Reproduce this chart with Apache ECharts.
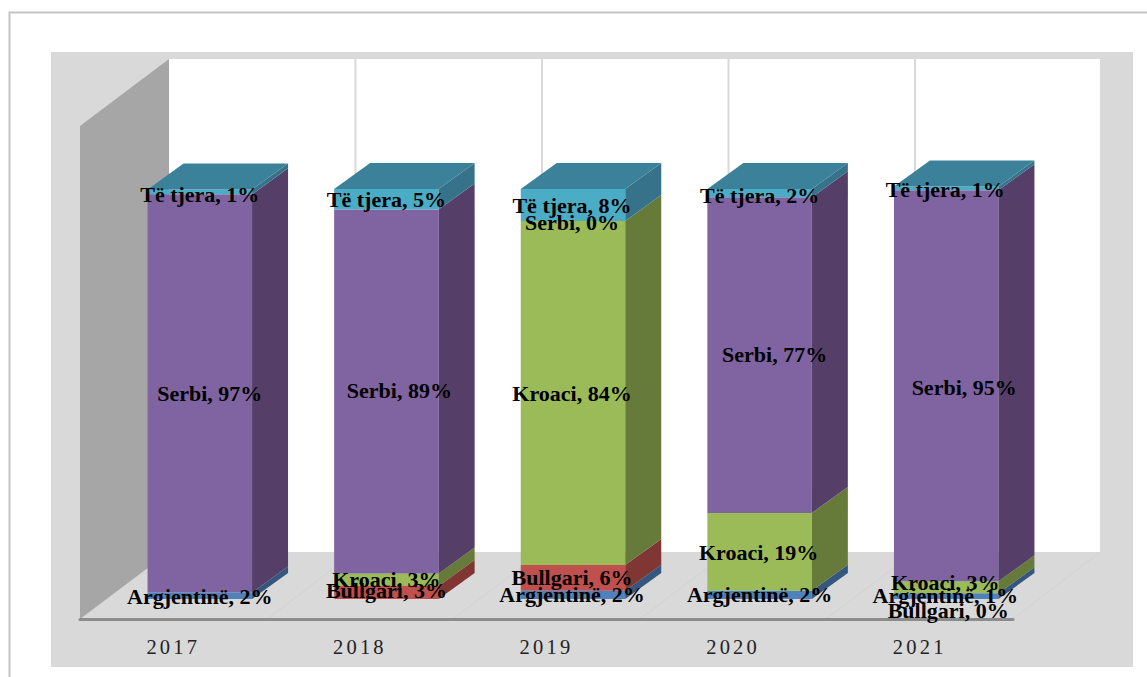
<!DOCTYPE html>
<html><head><meta charset="utf-8">
<style>html,body{margin:0;padding:0;background:#fff}#c{width:1147px;height:677px}
#c svg text[style*="20.5px"]{letter-spacing:3.2px}</style>
<script src="https://cdn.jsdelivr.net/npm/echarts@6/dist/echarts.min.js"></script>
</head><body><div id="c"></div>
<script>
const years = ['2017','2018','2019','2020','2021'];
const argjentine = [1.6, 0, 2, 2, 1.4];
const bullgari   = [0, 3.2, 6.3, 0, 0];
const kroaci     = [0, 3, 83.9, 19, 2.9];
const serbi      = [97.1, 88.8, 0, 77, 95.4];
const teTjera    = [1.2, 5, 7.8, 2, 0.9];

const names  = ['Argjentinë','Bullgari','Kroaci','Serbi','Të tjera'];
const values = [argjentine,bullgari,kroaci,serbi,teTjera];
// which labels the reference shows (zero labels only where printed)
const showZero = {'Bullgari|2021':1,'Serbi|2019':1};
// manual label nudges [dx,dy], keyed "series|year"
const nudge = {
 'Serbi|2017':[10,0],'Serbi|2018':[13,-1],'Serbi|2020':[15,-1],'Serbi|2021':[18,1.5],
 'Të tjera|2017':[0,3],'Të tjera|2019':[-1,1],'Të tjera|2020':[0,2],'Të tjera|2021':[-1,1],
 'Argjentinë|2017':[0,1],'Bullgari|2018':[0,-1.5],'Kroaci|2019':[-1,1],
 'Kroaci|2020':[-1,1],'Serbi|2019':[-1,2],'Bullgari|2019':[-1,0],'Argjentinë|2019':[-1,0],
 'Bullgari|2021':[2,17],'Kroaci|2021':[-1,-5],'Argjentinë|2021':[-1,-1]
};
const faces = [
 {front:'#4f81bd',side:'#35577f'},
 {front:'#c0504d',side:'#803633'},
 {front:'#9bbb59',side:'#667b3a'},
 {front:'#8064a2',side:'#553f69'},
 {front:'#4bacc6',side:'#36738a'}
];
const topColor = '#3a8199';
const barShare = 0.56, shiftX = 26.5, shiftY = -20, depthX = 36, depthY = -26;

function renderSeg(si){
  return function(params, api){
    const i = api.value(0), v = values[si][i];
    const base = values.slice(0,si).reduce((a,s)=>a+s[i],0);
    const c0 = api.coord([i,base]), c1 = api.coord([i,base+v]);
    const w = api.size([1,0])[0]*barShare;
    const xl = c0[0]+shiftX-w/2, xr = xl+w, yb = c0[1]+shiftY, yt = c1[1]+shiftY;
    const kids = [];
    if(v>0){
      kids.push({type:'polygon',z2:1,shape:{points:[[xl,yb],[xr,yb],[xr,yt],[xl,yt]]},style:{fill:faces[si].front}});
      kids.push({type:'polygon',z2:1,shape:{points:[[xr,yb],[xr+depthX,yb+depthY],[xr+depthX,yt+depthY],[xr,yt]]},style:{fill:faces[si].side}});
      const above = values.slice(si+1).reduce((a,s)=>a+s[i],0);
      if(above===0) kids.push({type:'polygon',z2:1,shape:{points:[[xl,yt],[xr,yt],[xr+depthX,yt+depthY],[xl+depthX,yt+depthY]]},style:{fill:topColor}});
    }
    const key = names[si]+'|'+years[i];
    if(v>0 || showZero[key]){
      const n = nudge[key]||[0,0];
      kids.push({type:'text',z2:100,x:(xl+xr)/2+n[0],y:(yb+yt)/2+n[1],
        style:{text:names[si]+', '+Math.round(v)+'%',fill:'#000',font:'bold 22px "Liberation Serif"',align:'center',verticalAlign:'middle'}});
    }
    return {type:'group',children:kids};
  };
}

const wall = '#d9d9d9';
const gridX = [355.5,542,728.5,915];
const floorX = [267,453,640,826];
const g = [
 {type:'rect',z:-10,shape:{x:9.5,y:12.5,width:1200,height:700},style:{fill:'#fff',stroke:'#c4c4c4',lineWidth:2}},
 {type:'rect',z:-9,shape:{x:51,y:52,width:1082,height:615},style:{fill:wall}},
 {type:'rect',z:-8,shape:{x:169,y:59,width:931,height:493},style:{fill:'#fff'}},
 {type:'polygon',z:-8,shape:{points:[[80,126],[169,59],[169,552],[80,619]]},style:{fill:'#a6a6a6'}},
 {type:'line',z:-7,shape:{x1:1013,y1:619,x2:1100,y2:552},style:{stroke:'#d2d2d2',lineWidth:1}}
];
gridX.forEach(x=>g.push({type:'line',z:-7,shape:{x1:x,y1:59,x2:x,y2:552},style:{stroke:wall,lineWidth:2}}));
floorX.forEach((x,k)=>g.push({type:'line',z:-7,shape:{x1:x,y1:619,x2:gridX[k],y2:552},style:{stroke:'#d2d2d2',lineWidth:1}}));

const chart = echarts.init(document.getElementById('c'),null,{renderer:'svg'});
chart.setOption({
  animation:false,
  backgroundColor:'#fff',
  graphic:{elements:g},
  grid:{left:80,right:134,top:127,bottom:58},
  xAxis:{type:'category',data:years,
    axisLine:{lineStyle:{color:'#8c8c8c',width:3}},axisTick:{show:false},
    axisLabel:{margin:17,color:'#222',fontFamily:'Liberation Serif',fontSize:20.5}},
  yAxis:{type:'value',min:0,max:120,interval:20,show:false},
  series:names.map((n,si)=>({
    type:'custom',name:n,renderItem:renderSeg(si),
    data:years.map((y,i)=>[i,values[si][i]]),
    encode:{x:0,y:1},clip:false
  }))
});
</script></body></html>
